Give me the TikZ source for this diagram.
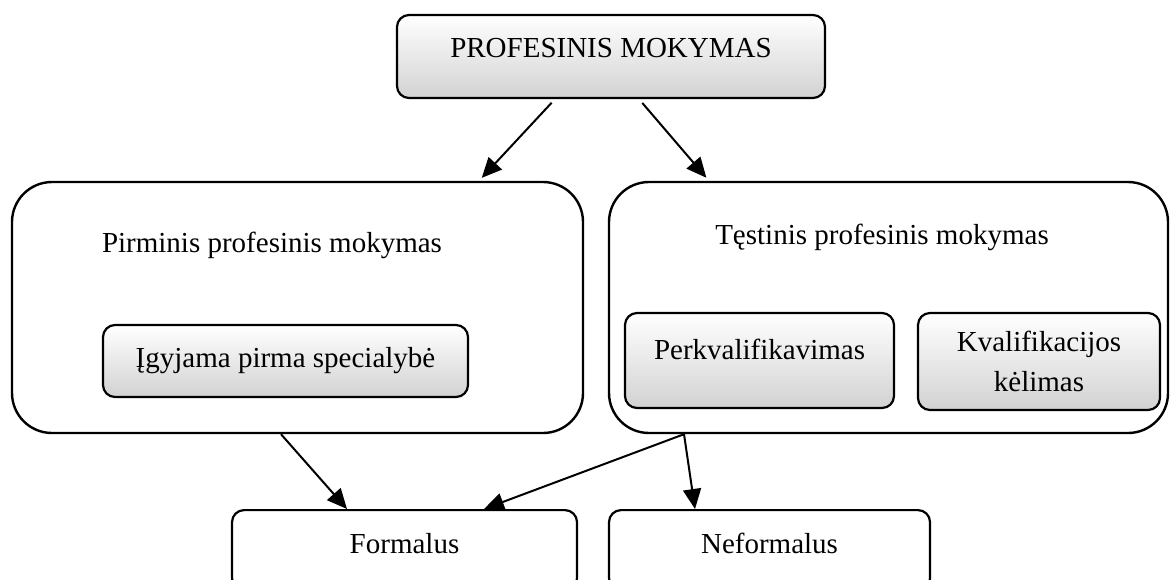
\documentclass[tikz,border=0pt]{standalone}
\usepackage{fontspec}
\setmainfont{Liberation Serif}
\usetikzlibrary{arrows.meta, positioning, calc}
\definecolor{shadebot}{RGB}{210, 210, 210}

\begin{document}
\begin{tikzpicture}[
          x=0.5pt, y=-0.5pt,
          font=\fontsize{14.5}{20}\selectfont,
          frame/.style={draw, line width=1.2pt, rounded corners=20pt, inner sep=0pt},
          shadebox/.style={draw, line width=1.1pt, rounded corners=6pt, top color=white,
                           bottom color=shadebot, align=center, inner sep=0pt},
          plainbox/.style={draw, line width=1.1pt, rounded corners=6pt, fill=white,
                           inner sep=0pt, text height=10pt, text depth=7pt},
          arr/.style={-{Triangle[length=10pt, width=9pt]}, line width=1pt},
        ]
        \useasboundingbox (0,0) rectangle (1170,579);
        \node[shadebox, minimum width=214pt, minimum height=41.5pt, text depth=8.5pt] (prof) at (611,56.5) {PROFESINIS MOKYMAS};
        \node[frame, minimum width=285.5pt, minimum height=125.5pt] (prim) at (297.5,307.5) {};
        \node[frame, minimum width=279.5pt, minimum height=125.5pt] (test) at (888.5,307.5) {};
        \node[anchor=base] (primt) at (272,252) {Pirminis profesinis mokymas};
        \node[anchor=base] (testt) at (882,244) {Tęstinis profesinis mokymas};
        \node[shadebox, minimum width=182.5pt, minimum height=36pt] (spec) at (285.5,361) {Įgyjama pirma specialybė};
        \node[shadebox, minimum width=134.5pt, minimum height=47.5pt, text depth=11pt] (perk) at (759.5,360.5) {Perkvalifikavimas};
        \node[shadebox, minimum width=121pt, minimum height=48.5pt] (kval) at (1039,361.5) {Kvalifikacijos\\kėlimas};
        \node[plainbox, anchor=north, minimum width=172.5pt, minimum height=40pt] (formal) at (404.5,509) {Formalus};
        \node[plainbox, anchor=north, minimum width=160.5pt, minimum height=40pt] (neformal) at (769.5,509) {Neformalus};
        \draw[arr, shorten <=2.5pt, shorten >=2pt] ($(prof.south)+(-56,0)$) -- ($(prim.north)+(181.5,0)$);
        \draw[arr, shorten <=2.5pt, shorten >=2pt] ($(prof.south)+(28,0)$) -- ($(test.north)+(-179.5,0)$);
        \draw[arr] ($(prim.south)+(-16.5,0)$) -- ($(formal.north)+(-57.5,0)$);
        \draw[arr] ($(test.south)+(-204.5,0)$) -- ($(formal.north)+(79.5,0)$);
        \draw[arr] ($(test.south)+(-204.5,0)$) -- ($(neformal.north)+(-74.5,0)$);
      \end{tikzpicture}
\end{document}
